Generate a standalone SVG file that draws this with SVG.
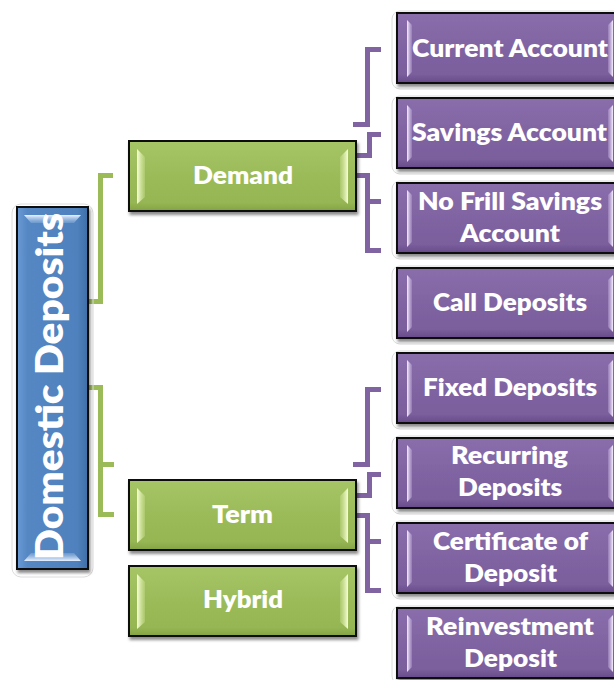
<svg xmlns="http://www.w3.org/2000/svg" width="614" height="680" viewBox="0 0 614 680">
  <defs>
    <linearGradient id="gPurple" x1="0" y1="0" x2="0" y2="1">
      <stop offset="0" stop-color="#8a6eac"/>
      <stop offset="0.5" stop-color="#8064a2"/>
      <stop offset="0.88" stop-color="#7a5e9c"/>
      <stop offset="1" stop-color="#664a88"/>
    </linearGradient>
    <linearGradient id="gGreen" x1="0" y1="0" x2="0" y2="1">
      <stop offset="0" stop-color="#a6c566"/>
      <stop offset="0.5" stop-color="#9bbb59"/>
      <stop offset="0.88" stop-color="#96b654"/>
      <stop offset="1" stop-color="#84a244"/>
    </linearGradient>
    <linearGradient id="gBlue" x1="0" y1="0" x2="1" y2="0">
      <stop offset="0" stop-color="#6a9ad4"/>
      <stop offset="0.15" stop-color="#5487c3"/>
      <stop offset="0.85" stop-color="#4f81bd"/>
      <stop offset="1" stop-color="#3f6ea8"/>
    </linearGradient>
    <linearGradient id="bevPL" x1="0" y1="0" x2="1" y2="0">
      <stop offset="0" stop-color="#f6eeff"/>
      <stop offset="1" stop-color="#c9b5e2" stop-opacity="0.3"/>
    </linearGradient>
    <linearGradient id="bevPR" x1="1" y1="0" x2="0" y2="0">
      <stop offset="0" stop-color="#f6eeff"/>
      <stop offset="1" stop-color="#c9b5e2" stop-opacity="0.3"/>
    </linearGradient>
    <linearGradient id="bevGL" x1="0" y1="0" x2="1" y2="0">
      <stop offset="0" stop-color="#f8ffd8"/>
      <stop offset="1" stop-color="#d3e89c" stop-opacity="0.3"/>
    </linearGradient>
    <linearGradient id="bevGR" x1="1" y1="0" x2="0" y2="0">
      <stop offset="0" stop-color="#f8ffd8"/>
      <stop offset="1" stop-color="#d3e89c" stop-opacity="0.3"/>
    </linearGradient>
    <linearGradient id="bevBT" x1="0" y1="0" x2="0" y2="1">
      <stop offset="0" stop-color="#eaf3ff"/>
      <stop offset="1" stop-color="#a9c6ea" stop-opacity="0.3"/>
    </linearGradient>
    <linearGradient id="bevBB" x1="0" y1="1" x2="0" y2="0">
      <stop offset="0" stop-color="#eaf3ff"/>
      <stop offset="1" stop-color="#a9c6ea" stop-opacity="0.3"/>
    </linearGradient>
    <filter id="shadow" x="-10%" y="-10%" width="130%" height="130%">
      <feDropShadow dx="1.5" dy="3" stdDeviation="1.6" flood-color="#000" flood-opacity="0.45"/>
    </filter>
  </defs>
  <style>
    .box { stroke: #111; stroke-width: 2; filter: url(#shadow); }
    .purple { fill: url(#gPurple); }
    .green { fill: url(#gGreen); }
    .blue { fill: url(#gBlue); }
    .halo { fill: none; stroke: #dcdcdc; stroke-width: 1; }
    .lbl { font-family: Lato, "Open Sans", "Liberation Sans", sans-serif; font-weight: 800; font-size: 25px; fill: #fff; text-anchor: middle; }
    .big { font-size: 38px; }
    .conP { fill: none; stroke: #8064a2; stroke-width: 5; }
    .conG { fill: none; stroke: #9bbb59; stroke-width: 5; }
  </style>

  <rect width="614" height="680" fill="#fff"/>

  <!-- connectors -->
  <g id="connectors">
    <path class="conG" d="M88,301.5 H100.5 V175.5 H113"/>
    <path class="conG" d="M88,387.5 H100.5 V514.5 H114 M100.5,464.5 H114"/>
    <path class="conP" d="M353,124.5 H367.5 V49.5 H381"/>
    <path class="conP" d="M356,155.5 H369.5 V134.5 H381"/>
    <path class="conP" d="M356,175.5 H367.5 V250.5 H381 M367.5,201.5 H381"/>
    <path class="conP" d="M353,464.5 H367.5 V389.5 H381"/>
    <path class="conP" d="M356,495.5 H369.5 V474.5 H381"/>
    <path class="conP" d="M356,515.5 H367.5 V590.5 H381 M367.5,541.5 H381"/>
  </g>

  <!-- root -->
  <g id="domestic-deposits">
    <rect class="halo" x="12" y="204" width="81" height="373" rx="9"/>
    <rect class="box blue" x="17" y="207" width="71" height="362"/>
    <polygon points="24,215 81,215 74,223 31,223" fill="url(#bevBT)"/>
    <polygon points="24,561 81,561 74,553 31,553" fill="url(#bevBB)"/>
    <text class="lbl big" transform="translate(63,386.5) rotate(-90)" textLength="347" lengthAdjust="spacingAndGlyphs">Domestic Deposits</text>
  </g>

  <!-- categories -->
  <g id="demand">
    <rect class="box green" x="129" y="141" width="227" height="70"/>
    <polygon points="137,149 145,157 145,197 137,204" fill="url(#bevGL)"/>
    <polygon points="348,149 340,157 340,197 348,204" fill="url(#bevGR)"/>
    <text class="lbl" x="243" y="184" textLength="100" lengthAdjust="spacingAndGlyphs">Demand</text>
  </g>
  <g id="term">
    <rect class="box green" x="129" y="480" width="227" height="70"/>
    <polygon points="137,488 145,496 145,536 137,543" fill="url(#bevGL)"/>
    <polygon points="348,488 340,496 340,536 348,543" fill="url(#bevGR)"/>
    <text class="lbl" x="242.5" y="523" textLength="61" lengthAdjust="spacingAndGlyphs">Term</text>
  </g>
  <g id="hybrid">
    <rect class="box green" x="129" y="566" width="227" height="70"/>
    <polygon points="137,574 145,582 145,622 137,629" fill="url(#bevGL)"/>
    <polygon points="348,574 340,582 340,622 348,629" fill="url(#bevGR)"/>
    <text class="lbl" x="243" y="608" textLength="80" lengthAdjust="spacingAndGlyphs">Hybrid</text>
  </g>

  <!-- deposit types -->
  <g id="current-account">
    <rect class="halo" x="392" y="11" width="240" height="78" rx="8"/>
    <rect class="box purple" x="397" y="13" width="226" height="70"/>
    <polygon points="407,20 412,25 412,72 407,77" fill="url(#bevPL)"/>
    <polygon points="613,20 608,25 608,72 613,77" fill="url(#bevPR)"/>
    <text class="lbl" x="510" y="57" textLength="196" lengthAdjust="spacingAndGlyphs">Current Account</text>
  </g>
  <g id="savings-account">
    <rect class="halo" x="392" y="96" width="240" height="78" rx="8"/>
    <rect class="box purple" x="397" y="98" width="226" height="70"/>
    <polygon points="407,105 412,110 412,157 407,162" fill="url(#bevPL)"/>
    <polygon points="613,105 608,110 608,157 613,162" fill="url(#bevPR)"/>
    <text class="lbl" x="509.5" y="141" textLength="195" lengthAdjust="spacingAndGlyphs">Savings Account</text>
  </g>
  <g id="no-frill-savings-account">
    <rect class="halo" x="392" y="181" width="240" height="78" rx="8"/>
    <rect class="box purple" x="397" y="183" width="226" height="70"/>
    <polygon points="407,190 412,195 412,242 407,247" fill="url(#bevPL)"/>
    <polygon points="613,190 608,195 608,242 613,247" fill="url(#bevPR)"/>
    <text class="lbl" x="510" y="210" textLength="184" lengthAdjust="spacingAndGlyphs">No Frill Savings</text>
    <text class="lbl" x="510" y="242" textLength="100" lengthAdjust="spacingAndGlyphs">Account</text>
  </g>
  <g id="call-deposits">
    <rect class="halo" x="392" y="266" width="240" height="78" rx="8"/>
    <rect class="box purple" x="397" y="268" width="226" height="70"/>
    <polygon points="407,275 412,280 412,327 407,332" fill="url(#bevPL)"/>
    <polygon points="613,275 608,280 608,327 613,332" fill="url(#bevPR)"/>
    <text class="lbl" x="510" y="311" textLength="154" lengthAdjust="spacingAndGlyphs">Call Deposits</text>
  </g>
  <g id="fixed-deposits">
    <rect class="halo" x="392" y="351" width="240" height="78" rx="8"/>
    <rect class="box purple" x="397" y="353" width="226" height="70"/>
    <polygon points="407,360 412,365 412,412 407,417" fill="url(#bevPL)"/>
    <polygon points="613,360 608,365 608,412 613,417" fill="url(#bevPR)"/>
    <text class="lbl" x="510" y="396" textLength="174" lengthAdjust="spacingAndGlyphs">Fixed Deposits</text>
  </g>
  <g id="recurring-deposits">
    <rect class="halo" x="392" y="436" width="240" height="78" rx="8"/>
    <rect class="box purple" x="397" y="438" width="226" height="70"/>
    <polygon points="407,445 412,450 412,497 407,502" fill="url(#bevPL)"/>
    <polygon points="613,445 608,450 608,497 613,502" fill="url(#bevPR)"/>
    <text class="lbl" x="509.5" y="464" textLength="117" lengthAdjust="spacingAndGlyphs">Recurring</text>
    <text class="lbl" x="510" y="496" textLength="104" lengthAdjust="spacingAndGlyphs">Deposits</text>
  </g>
  <g id="certificate-of-deposit">
    <rect class="halo" x="392" y="521" width="240" height="78" rx="8"/>
    <rect class="box purple" x="397" y="523" width="226" height="70"/>
    <polygon points="407,530 412,535 412,582 407,587" fill="url(#bevPL)"/>
    <polygon points="613,530 608,535 608,582 613,587" fill="url(#bevPR)"/>
    <text class="lbl" x="510.5" y="550" textLength="155" lengthAdjust="spacingAndGlyphs">Certificate of</text>
    <text class="lbl" x="510.5" y="582" textLength="93" lengthAdjust="spacingAndGlyphs">Deposit</text>
  </g>
  <g id="reinvestment-deposit">
    <rect class="halo" x="392" y="606" width="240" height="78" rx="8"/>
    <rect class="box purple" x="397" y="608" width="226" height="70"/>
    <polygon points="407,615 412,620 412,667 407,672" fill="url(#bevPL)"/>
    <polygon points="613,615 608,620 608,667 613,672" fill="url(#bevPR)"/>
    <text class="lbl" x="510" y="635" textLength="168" lengthAdjust="spacingAndGlyphs">Reinvestment</text>
    <text class="lbl" x="510.5" y="667" textLength="93" lengthAdjust="spacingAndGlyphs">Deposit</text>
  </g>
</svg>
